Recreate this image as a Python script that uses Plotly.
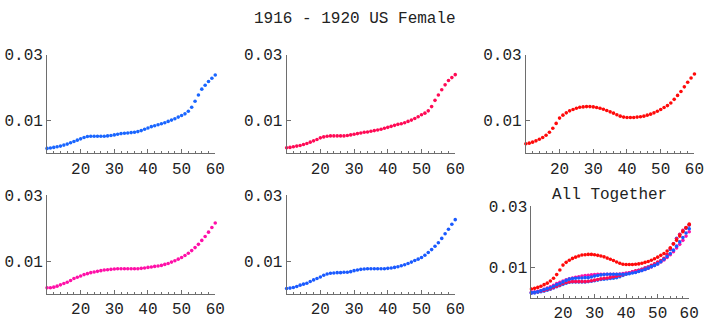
import plotly.graph_objects as go

ages = list(range(10, 61))

series_1 = [0.0015, 0.0016, 0.0018, 0.0020, 0.0022, 0.0025, 0.0028, 0.0032, 0.0036, 0.0040,
            0.0044, 0.0048, 0.0051, 0.0052, 0.0052, 0.0052, 0.0052, 0.0052, 0.0053, 0.0054,
            0.0056, 0.0058, 0.0060, 0.0061, 0.0062, 0.0063, 0.0064, 0.0066, 0.0069, 0.0073,
            0.0077, 0.0081, 0.0084, 0.0087, 0.0090, 0.0093, 0.0097, 0.0101, 0.0105, 0.0110,
            0.0115, 0.0120, 0.0128, 0.0140, 0.0158, 0.0177, 0.0195, 0.0207, 0.0218, 0.0228,
            0.0238]
series_2 = [0.0017, 0.0018, 0.0020, 0.0022, 0.0024, 0.0027, 0.0030, 0.0034, 0.0038, 0.0042,
            0.0047, 0.0050, 0.0052, 0.0053, 0.0053, 0.0053, 0.0053, 0.0053, 0.0054, 0.0056,
            0.0058, 0.0060, 0.0062, 0.0064, 0.0065, 0.0067, 0.0069, 0.0071, 0.0073, 0.0076,
            0.0079, 0.0082, 0.0085, 0.0088, 0.0090, 0.0093, 0.0097, 0.0101, 0.0106, 0.0111,
            0.0117, 0.0122, 0.0129, 0.0142, 0.0161, 0.0177, 0.0193, 0.0208, 0.0221, 0.0230,
            0.0239]
series_3 = [0.0029, 0.0031, 0.0034, 0.0038, 0.0043, 0.0048, 0.0055, 0.0064, 0.0076, 0.0091,
            0.0107, 0.0116, 0.0123, 0.0129, 0.0133, 0.0137, 0.0140, 0.0141, 0.0142, 0.0142,
            0.0141, 0.0139, 0.0137, 0.0134, 0.0130, 0.0126, 0.0122, 0.0117, 0.0113, 0.0110,
            0.0109, 0.0109, 0.0109, 0.0110, 0.0111, 0.0113, 0.0116, 0.0119, 0.0123, 0.0128,
            0.0133, 0.0139, 0.0145, 0.0153, 0.0164, 0.0176, 0.0188, 0.0202, 0.0216, 0.0229,
            0.0241]
series_4 = [0.0019, 0.0019, 0.0021, 0.0024, 0.0028, 0.0032, 0.0036, 0.0041, 0.0047, 0.0051,
            0.0055, 0.0059, 0.0062, 0.0065, 0.0067, 0.0069, 0.0071, 0.0073, 0.0074, 0.0075,
            0.0076, 0.0077, 0.0077, 0.0077, 0.0077, 0.0077, 0.0077, 0.0077, 0.0078, 0.0079,
            0.0081, 0.0082, 0.0084, 0.0085, 0.0087, 0.0090, 0.0093, 0.0097, 0.0101, 0.0106,
            0.0111, 0.0117, 0.0124, 0.0132, 0.0141, 0.0151, 0.0163, 0.0175, 0.0188, 0.0202,
            0.0216]
series_5 = [0.0017, 0.0018, 0.0020, 0.0023, 0.0027, 0.0030, 0.0033, 0.0038, 0.0043, 0.0047,
            0.0052, 0.0057, 0.0061, 0.0063, 0.0064, 0.0065, 0.0065, 0.0066, 0.0066, 0.0068,
            0.0071, 0.0073, 0.0075, 0.0076, 0.0077, 0.0077, 0.0077, 0.0077, 0.0077, 0.0077,
            0.0078, 0.0079, 0.0081, 0.0083, 0.0086, 0.0089, 0.0093, 0.0097, 0.0102, 0.0106,
            0.0111, 0.0118, 0.0126, 0.0135, 0.0145, 0.0156, 0.0169, 0.0183, 0.0197, 0.0212,
            0.0226]

all_series = [series_1, series_2, series_3, series_4, series_5]
colors = ["#1a66ff", "#ff0a55", "#ff0a0a", "#ff10a8", "#1a5aff"]

x_ticks = [20, 30, 40, 50, 60]
y_ticks = [0.01, 0.03]
y_tick_text = ["0.01", "0.03"]

title_text = "1916 - 1920 US Female"
panel6_title = "All Together"

W, H = 714, 323
# panel pixel boxes: (left, right, top, bottom)
boxes = [
    (47.7, 218.3, 50.7, 156.0),
    (290.7, 461.7, 50.7, 156.0),
    (533.3, 704.3, 50.7, 156.0),
    (47.7, 218.3, 200.7, 306.0),
    (290.7, 461.7, 200.7, 306.0),
    (539.0, 699.0, 212.3, 310.0),
]

font = "Liberation Mono, Courier New, monospace"
axis_col = "#6e6e6e"
text_col = "#222222"
fs = 16

fig = go.Figure()
layout = dict(
    width=W, height=H,
    margin=dict(l=0, r=0, t=0, b=0),
    paper_bgcolor="white", plot_bgcolor="white",
    showlegend=False,
    font=dict(family=font, size=fs, color=text_col),
)

for i, (l, r, t, b) in enumerate(boxes):
    n = i + 1
    xa = "xaxis" if n == 1 else f"xaxis{n}"
    ya = "yaxis" if n == 1 else f"yaxis{n}"
    xref = "x" if n == 1 else f"x{n}"
    yref = "y" if n == 1 else f"y{n}"
    layout[xa] = dict(
        domain=[l / W, r / W], range=[10, 60], anchor=yref,
        showline=True, linecolor=axis_col, linewidth=1,
        showgrid=False, zeroline=False,
        tickvals=x_ticks, ticks="inside", ticklen=4, tickcolor=axis_col,
        tickfont=dict(family=font, size=fs, color=text_col),
        ticklabelstandoff=0,
        minor=dict(dtick=2, tick0=10, ticks="inside", ticklen=2, tickcolor=axis_col, showgrid=False),
        fixedrange=True,
    )
    layout[ya] = dict(
        domain=[1 - b / H, 1 - t / H], range=[0, 0.03], anchor=xref,
        showline=True, linecolor=axis_col, linewidth=1,
        showgrid=False, zeroline=False,
        tickvals=y_ticks, ticktext=y_tick_text, ticks="inside", ticklen=4,
        tickcolor=axis_col, ticklabelstandoff=0,
        tickfont=dict(family=font, size=fs, color=text_col),
        fixedrange=True,
    )
    if n <= 5:
        data_list = [(all_series[i], colors[i])]
    else:
        data_list = list(zip(all_series, colors))
    for ys, c in data_list:
        fig.add_trace(go.Scatter(
            x=ages, y=ys, mode="markers", xaxis=xref, yaxis=yref,
            marker=dict(size=3.6, color=c, line=dict(width=0)),
            cliponaxis=False,
        ))

fig.update_layout(**layout)
fig.add_annotation(text=title_text, x=360 / W, y=1 - 13 / H, xref="paper", yref="paper",
                   showarrow=False, xanchor="center", yanchor="middle",
                   font=dict(family=font, size=fs, color=text_col))
fig.add_annotation(text=panel6_title, x=618 / W, y=1 - 200 / H, xref="paper", yref="paper",
                   showarrow=False, xanchor="center", yanchor="middle",
                   font=dict(family=font, size=fs, color=text_col))

fig.write_html(
    "out.html",
    config={"displayModeBar": False},
    post_script="document.body.style.margin='0';document.body.style.overflow='hidden';",
)
